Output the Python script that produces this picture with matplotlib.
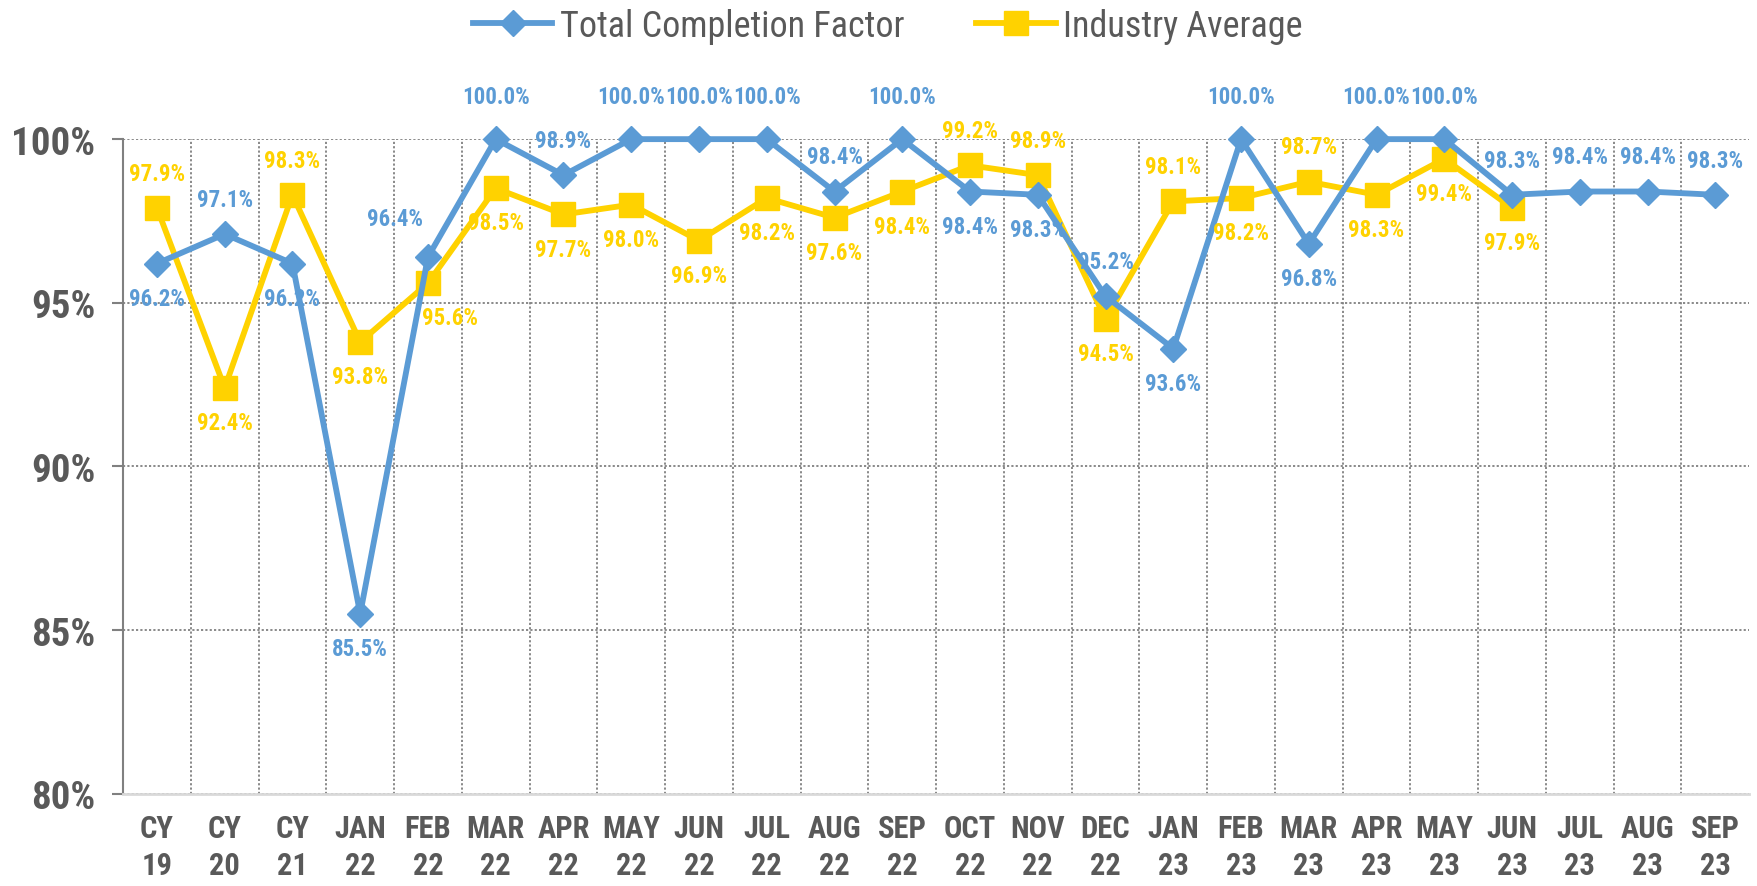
import matplotlib.pyplot as plt
from matplotlib import font_manager
import numpy as np

# --- data -------------------------------------------------------------
categories = ["CY\n19", "CY\n20", "CY\n21", "JAN\n22", "FEB\n22", "MAR\n22", "APR\n22",
              "MAY\n22", "JUN\n22", "JUL\n22", "AUG\n22", "SEP\n22", "OCT\n22", "NOV\n22",
              "DEC\n22", "JAN\n23", "FEB\n23", "MAR\n23", "APR\n23", "MAY\n23", "JUN\n23",
              "JUL\n23", "AUG\n23", "SEP\n23"]
total_completion = [96.2, 97.1, 96.2, 85.5, 96.4, 100.0, 98.9, 100.0, 100.0, 100.0, 98.4, 100.0,
                    98.4, 98.3, 95.2, 93.6, 100.0, 96.8, 100.0, 100.0, 98.3, 98.4, 98.4, 98.3]
industry_avg = [97.9, 92.4, 98.3, 93.8, 95.6, 98.5, 97.7, 98.0, 96.9, 98.2, 97.6, 98.4,
                99.2, 98.9, 94.5, 98.1, 98.2, 98.7, 98.3, 99.4, 97.9]

# label placement: 'a' above, 'b' below, 'l' above-left, 'r' below-right
blue_pos = ["b", "a", "b", "b", "l", "a", "a", "a", "a", "a", "a", "a",
            "b", "b", "a", "b", "a", "b", "a", "a", "a", "a", "a", "a"]
yellow_pos = ["a", "b", "a", "b", "r", "b", "b", "b", "b", "b", "b", "b",
              "a", "a", "b", "a", "b", "a", "b", "b", "b"]

BLUE = "#5B9BD5"
YELLOW = "#FFD200"
GRAY = "#595959"

# the original uses a narrow font; take one if the machine has it
names = {f.name for f in font_manager.fontManager.ttflist}
narrow = [n for n in ["Liberation Sans Narrow", "Roboto Condensed", "Noto Sans Condensed",
                      "Open Sans Condensed", "DejaVu Sans Condensed"] if n in names]
if narrow:
    FONT = narrow[0]
    lab_fs, ytick_fs, xtick_fs, leg_fs = 16.5, 28, 22, 26
else:
    FONT = "Liberation Sans"
    lab_fs, ytick_fs, xtick_fs, leg_fs = 14, 25, 19, 24
plt.rcParams["font.family"] = [FONT, "DejaVu Sans"]

fig = plt.figure(figsize=(17.58, 8.87), dpi=100)
ax = fig.add_axes([0.070, 0.104, 0.925, 0.738])

x = np.arange(len(categories))
xi = np.arange(len(industry_avg))

ax.plot(x, total_completion, color=BLUE, lw=4.2, marker="D", ms=13,
        label="Total Completion Factor", clip_on=False, zorder=4)
ax.plot(xi, industry_avg, color=YELLOW, lw=4.2, marker="s", ms=17,
        label="Industry Average", clip_on=False, zorder=3)

offsets = {"a": (0, 25), "b": (0, -25), "l": (-24, 28), "r": (16, -25)}
for xv, yv, p in zip(x, total_completion, blue_pos):
    dx, dy = offsets[p]
    if p == "a" and yv >= 99.99:
        dy = 31
    ax.annotate(f"{yv:.1f}%", (xv, yv), xytext=(dx, dy), textcoords="offset points",
                ha="center", va="center", color=BLUE, fontsize=lab_fs, fontweight="bold",
                annotation_clip=False, zorder=6)
for xv, yv, p in zip(xi, industry_avg, yellow_pos):
    dx, dy = offsets[p]
    ax.annotate(f"{yv:.1f}%", (xv, yv), xytext=(dx, dy), textcoords="offset points",
                ha="center", va="center", color=YELLOW, fontsize=lab_fs, fontweight="bold",
                annotation_clip=False, zorder=6)

ax.set_xlim(-0.5, len(categories) - 0.5)
ax.set_ylim(80, 100)
ax.set_yticks([80, 85, 90, 95, 100])
ax.set_yticklabels(["80%", "85%", "90%", "95%", "100%"])
ax.set_xticks(x)
ax.set_xticklabels(categories)
ax.set_xticks(np.arange(0.5, len(categories) - 0.5, 1), minor=True)

for lbl in ax.get_yticklabels():
    lbl.set_fontsize(ytick_fs)
    lbl.set_fontweight("bold")
    lbl.set_color(GRAY)
for lbl in ax.get_xticklabels():
    lbl.set_fontsize(xtick_fs)
    lbl.set_fontweight("bold")
    lbl.set_color(GRAY)
    lbl.set_linespacing(1.3)

ax.tick_params(axis="x", which="both", length=0, pad=14)
ax.tick_params(axis="y", length=8, width=1.5, color="#808080", pad=12)
ax.grid(axis="y", which="major", linestyle=(0, (1.2, 1.2)), color="#808080", lw=1.3)
ax.grid(axis="x", which="minor", linestyle=(0, (1.2, 1.2)), color="#808080", lw=1.3)
for s in ["top", "right"]:
    ax.spines[s].set_visible(False)
ax.spines["left"].set_color("#808080")
ax.spines["left"].set_linewidth(1.5)
ax.spines["bottom"].set_color("#D9D9D9")
ax.spines["bottom"].set_linewidth(2)

leg = fig.legend(loc="upper center", bbox_to_anchor=(0.505, 1.027), ncol=2, frameon=False,
                 fontsize=leg_fs, handlelength=2.2, columnspacing=2.0, handletextpad=0.2)
for t in leg.get_texts():
    t.set_color(GRAY)

fig.savefig("out.png", dpi=100)
